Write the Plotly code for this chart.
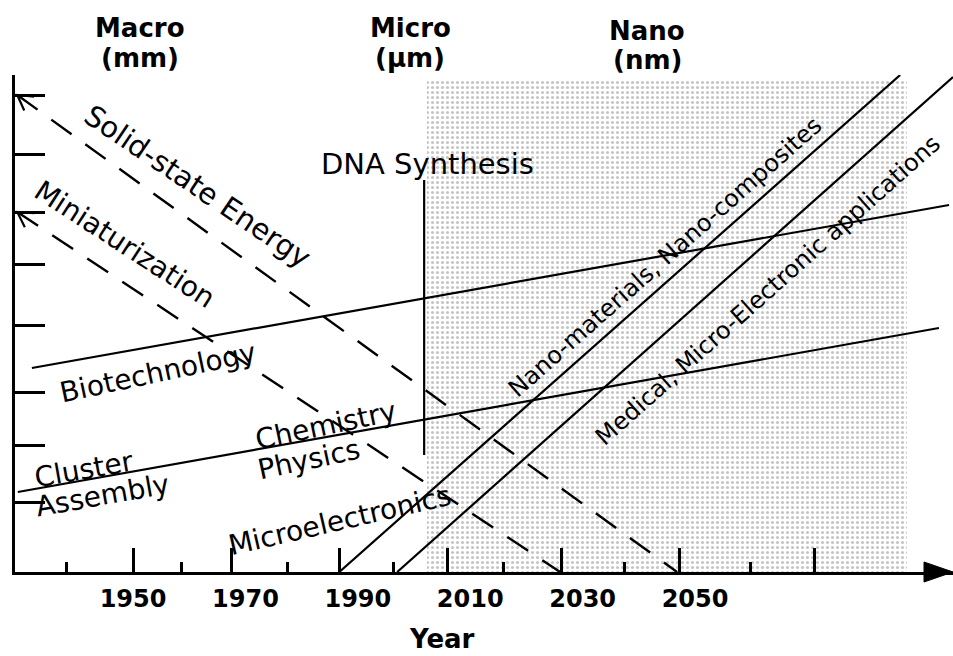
import math
import plotly.graph_objects as go

# ---------------- values ----------------
# horizontal scale: calendar year ; vertical scale: relative size level (0 = time axis)
year_labels = [1950, 1970, 1990, 2010, 2030, 2050]
year_label_text = ["1950", "1970", "1990", "2010", "2030", "2050"]

# tick marks as drawn on the hand-made axes
major_tick_years = [1950.0, 1967.6, 1986.7, 2005.9, 2026.3, 2047.2, 2071.2]
minor_tick_years = [1938.1, 1958.7, 1977.4, 1996.4, 2016.0, 2037.4, 2059.8]
level_ticks = [14.0, 25.4, 36.0, 49.4, 61.6, 72.0, 83.6, 95.4]

# solid trend lines (start, end)
nano_materials_x = [1986.7, 2086.5]
nano_materials_y = [0.0, 99.4]
medical_x = [1997.0, 2095.9]
medical_y = [0.0, 99.0]
biotech_x = [1932.0, 2095.2]
biotech_y = [40.8, 73.4]
chemistry_x = [1929.5, 2093.4]
chemistry_y = [16.0, 48.8]
dna_x = [2001.8, 2001.8]
dna_y = [23.4, 78.4]

# dashed trend lines (start, end)
solid_state_x = [1929.4, 2046.8]
solid_state_y = [95.4, 0.0]
miniaturization_x = [1929.4, 2026.0]
miniaturization_y = [72.0, 0.0]

# shaded nano era
nano_era_x = [2002.3, 2087.7]
nano_era_y = [0.0, 98.4]

# scale headings
scale_names = ["Macro", "Micro", "Nano"]
scale_units = ["(mm)", "(\u03bcm)", "(nm)"]

# ---------------- figure ----------------
W, H = 953, 656
ML, MR, MT, MB = 15, 0, 75, 84
x_range = [1929.0, 2095.9]
y_range = [0.0, 99.4]
px_per_year = (W - ML - MR) / (x_range[1] - x_range[0])
px_per_level = (H - MT - MB) / (y_range[1] - y_range[0])

FONT = "DejaVu Sans"
fig = go.Figure()

# shaded nano-scale era
fig.add_trace(go.Scatter(
    x=[nano_era_x[0], nano_era_x[1], nano_era_x[1], nano_era_x[0], nano_era_x[0]],
    y=[nano_era_y[0], nano_era_y[0], nano_era_y[1], nano_era_y[1], nano_era_y[0]],
    mode="lines", fill="toself", line=dict(width=0, color="rgba(0,0,0,0)"),
    fillcolor="white",
    fillpattern=dict(shape=".", fgcolor="#8a8a8a", bgcolor="white", size=5, solidity=0.3),
    hoverinfo="skip", showlegend=False))

solid = dict(color="black", width=2.2)
dashed = dict(color="black", width=2.4, dash="25px,17px")
for xs, ys, ln in [
    (solid_state_x, solid_state_y, dashed),
    (miniaturization_x, miniaturization_y, dashed),
    (biotech_x, biotech_y, solid),
    (chemistry_x, chemistry_y, solid),
    (dna_x, dna_y, solid),
    (nano_materials_x, nano_materials_y, solid),
    (medical_x, medical_y, solid),
]:
    fig.add_trace(go.Scatter(x=xs, y=ys, mode="lines", line=ln,
                             hoverinfo="skip", showlegend=False))

# empty trace so the tick-mark axis is drawn
fig.add_trace(go.Scatter(x=[], y=[], xaxis="x2", yaxis="y", showlegend=False))


def chevron(xs, ys, arm=17, spread=30):
    dx = (xs[1] - xs[0]) * px_per_year
    dy = (ys[1] - ys[0]) * px_per_level
    ang = math.atan2(dy, dx)
    pts = []
    for s in (1, -1):
        a = ang + s * math.radians(spread)
        pts.append((arm * math.cos(a), arm * math.sin(a)))
    return dict(type="path", xref="x", yref="y", xsizemode="pixel", ysizemode="pixel",
                xanchor=xs[0], yanchor=ys[0],
                path=f"M{pts[0][0]:.1f},{pts[0][1]:.1f} L0,0 L{pts[1][0]:.1f},{pts[1][1]:.1f}",
                line=dict(color="black", width=2.2))


shapes = [
    chevron(solid_state_x, solid_state_y),
    chevron(miniaturization_x, miniaturization_y),
    # arrow head at the end of the time axis
    dict(type="path", xref="paper", yref="paper", xsizemode="pixel", ysizemode="pixel",
         xanchor=1, yanchor=0, path="M-29,10 L0,0 L-29,-10 Z",
         fillcolor="black", line=dict(color="black", width=1)),
]

reg = dict(family=FONT, size=28, color="black")
big = dict(family=FONT, size=29, color="black")
diag = dict(family=FONT, size=24, color="black")
bold_head = dict(family=FONT, size=26, color="black", weight="bold")

annotations = []


def txt(text, x, y, angle, font):
    annotations.append(dict(text=text, x=x, y=y, xref="x", yref="y", showarrow=False,
                            textangle=angle, font=font, xanchor="center", yanchor="middle"))


txt("Solid-state Energy", 1961.4, 77.2, 34, big)
txt("Miniaturization", 1948.6, 65.6, 33, reg)
txt("DNA Synthesis", 2002.4, 81.7, 0, big)
txt("Biotechnology", 1954.4, 40.0, -12, reg)
txt("Cluster", 1941.3, 20.6, -10, reg)
txt("Assembly", 1944.5, 15.4, -10, reg)
txt("Chemistry", 1984.2, 29.4, -12, reg)
txt("Physics", 1981.3, 22.6, -12, reg)
txt("Microelectronics", 1986.8, 10.4, -13, reg)
txt("Nano-materials, Nano-composites", 2044.7, 63.0, -41.5, diag)
txt("Medical, Micro-Electronic applications", 2063.0, 56.4, -41.7, diag)

head_x = [1951.2, 1999.3, 2041.5]
head_y1 = [1.0946, 1.0946, 1.0885]
head_y2 = [1.034, 1.034, 1.030]
for name, unit, hx, y1, y2 in zip(scale_names, scale_units, head_x, head_y1, head_y2):
    annotations.append(dict(text=name, x=hx, y=y1, xref="x", yref="paper", showarrow=False,
                            font=bold_head, xanchor="center", yanchor="middle"))
    annotations.append(dict(text=unit, x=hx, y=y2, xref="x", yref="paper", showarrow=False,
                            font=bold_head, xanchor="center", yanchor="middle"))

annotations.append(dict(text="Year", x=2005.0, y=-0.167, xref="x", yref="paper",
                        showarrow=False, xanchor="center", yanchor="bottom", borderpad=0,
                        font=dict(family=FONT, size=26, color="black", weight="bold")))

fig.update_layout(
    width=W, height=H,
    margin=dict(l=ML, r=MR, t=MT, b=MB, pad=0),
    paper_bgcolor="white", plot_bgcolor="white",
    showlegend=False,
    shapes=shapes,
    annotations=annotations,
    xaxis=dict(range=x_range, showgrid=False, zeroline=False, automargin=False,
               showline=True, linecolor="black", linewidth=3,
               tickmode="array", tickvals=year_labels, ticktext=year_label_text,
               ticks="", ticklabelstandoff=3,
               tickfont=dict(family=FONT, size=24, color="black", weight="bold")),
    xaxis2=dict(range=x_range, overlaying="x", anchor="y", side="bottom",
                showgrid=False, zeroline=False, showline=False, automargin=False,
                showticklabels=False, tickmode="array", tickvals=major_tick_years,
                ticks="inside", ticklen=24, tickwidth=2.6, tickcolor="black",
                minor=dict(tickmode="array", tickvals=minor_tick_years, ticks="inside",
                           ticklen=10, tickwidth=2.6, tickcolor="black")),
    yaxis=dict(range=y_range, showgrid=False, zeroline=False, automargin=False,
               showline=True, linecolor="black", linewidth=3,
               showticklabels=False, tickmode="array", tickvals=level_ticks,
               ticks="inside", ticklen=30, tickwidth=2.6, tickcolor="black"),
)

fig.write_html("out.html", config={"displayModeBar": False},
               post_script="document.body.style.margin='0px';document.body.style.padding='0px';")
